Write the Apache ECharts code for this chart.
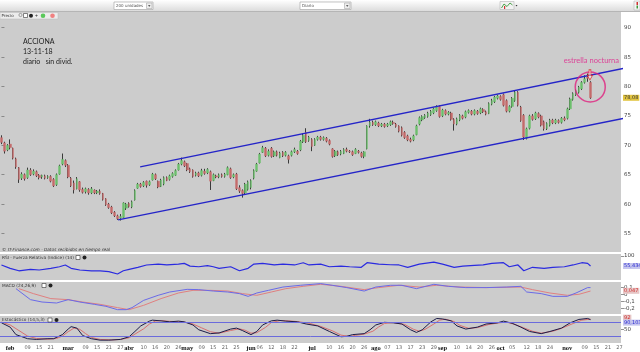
<!DOCTYPE html>
<html><head><meta charset="utf-8">
<script src="https://cdn.jsdelivr.net/npm/echarts@6/dist/echarts.min.js"></script>
<style>html,body{margin:0;padding:0;background:#fff}#c{width:640px;height:352px}</style>
</head><body><div id="c"></div>
<script>
// ---- calendar (trading days) ----
const startDate = '2018-01-29', endDate = '2018-11-27';
const holidays = ['2018-03-30', '2018-04-02', '2018-05-01'];
// ---- daily candles ACCIONA ----
const open = [71.3,70.4,69.2,70.2,69.5,67.7,66.2,64.4,65.0,64.5,65.8,65.1,65.5,64.9,64.6,64.8,64.5,64.7,64.2,63.3,
65.1,66.8,67.4,66.6,64.4,63.6,62.6,63.8,62.5,62.1,62.5,61.9,62.4,61.9,62.2,61.8,60.9,60.0,59.5,58.6,
58.0,57.6,57.7,59.3,60.1,59.5,60.7,62.7,63.4,63.1,63.9,63.3,64.1,65.0,63.9,63.0,63.4,64.5,64.2,64.7,
64.9,65.8,66.8,67.2,66.9,66.0,65.8,64.9,65.3,64.9,65.6,65.3,65.5,64.0,64.8,64.6,65.0,64.7,65.0,66.0,
64.6,65.1,62.8,62.3,61.9,62.5,62.8,64.4,65.6,67.0,68.8,69.5,68.3,69.5,68.2,68.9,67.9,68.8,68.3,68.2,
68.3,68.9,69.0,69.2,70.6,72.2,70.8,71.0,70.0,71.0,71.4,71.0,71.2,70.8,69.4,68.2,68.9,68.5,68.6,69.3,
69.0,68.9,68.6,69.0,68.7,68.1,69.4,73.3,73.9,73.5,73.8,73.3,73.6,73.3,73.5,73.9,73.6,73.3,73.0,72.2,
71.6,71.0,70.9,71.8,73.6,74.3,74.7,74.9,75.2,75.5,75.9,76.6,75.0,75.9,75.3,75.5,74.4,73.6,74.3,75.0,
74.8,75.6,75.8,75.3,75.8,75.5,76.1,75.7,75.4,77.0,77.4,78.0,78.3,78.6,77.6,75.8,76.6,77.6,79.0,76.5,
75.1,71.2,72.9,75.0,74.5,75.4,75.0,74.0,72.8,73.4,74.3,73.8,74.2,73.9,74.6,74.6,76.2,77.8,78.6,79.0,
79.6,80.7,81.6,80.7];
const close = [70.5,69.0,70.0,69.6,67.8,66.3,64.2,65.1,64.3,65.8,65.0,65.6,64.8,64.5,64.9,64.4,64.7,63.9,63.1,65.0,
66.5,67.6,66.6,64.6,63.1,62.4,64.3,62.4,62.0,62.6,61.9,62.6,61.9,62.2,61.8,60.8,59.9,59.4,58.5,58.0,
57.5,57.9,60.2,60.0,59.6,60.4,62.3,63.4,63.0,63.7,63.2,63.8,65.1,64.3,62.9,64.1,64.5,64.0,64.8,65.2,
65.7,66.8,67.4,66.5,65.8,65.5,64.7,65.3,64.8,65.7,65.2,65.9,63.9,65.0,64.6,65.0,64.7,65.1,66.2,64.5,
65.0,62.6,62.2,61.8,63.4,63.8,64.0,65.7,66.8,68.5,69.6,68.2,69.0,68.1,68.9,68.3,68.7,68.2,68.8,67.6,
68.9,69.3,68.6,70.7,71.7,70.6,71.4,69.8,71.0,71.4,71.0,71.3,70.7,70.2,68.1,69.0,68.4,69.0,69.3,69.0,
68.9,68.4,69.3,68.8,68.1,68.9,73.3,73.9,73.5,74.0,73.3,73.6,73.2,73.6,74.0,73.7,73.2,72.4,71.7,71.3,
70.9,70.7,71.6,73.3,74.7,74.9,75.1,75.5,75.8,76.2,76.5,74.9,76.0,75.3,75.6,74.4,73.6,74.5,75.1,74.6,
75.7,75.9,75.3,75.9,75.4,76.2,75.7,75.3,77.1,77.6,78.2,78.4,77.8,76.8,75.8,76.6,78.0,79.0,76.8,74.2,
71.4,72.8,75.0,74.4,75.5,74.8,73.4,72.8,73.7,74.3,73.8,74.3,73.9,74.6,74.3,76.2,77.9,78.8,79.3,79.9,
80.7,81.3,81.4,78.08];
const low = [70.2,68.6,69.0,69.3,67.6,66.0,63.6,64.1,64.0,64.3,64.8,64.9,64.6,64.2,64.3,64.2,64.3,63.7,62.9,63.1,
65.0,66.6,66.3,64.4,62.9,61.8,62.5,62.1,61.8,61.8,61.6,61.7,61.7,61.7,61.6,60.6,59.7,59.2,58.3,57.8,
57.3,57.2,57.6,59.0,59.4,59.3,60.6,62.6,62.8,62.9,62.8,63.1,64.0,64.1,62.7,62.9,63.2,63.9,64.0,64.5,
64.8,65.7,66.6,66.3,65.6,65.3,64.5,64.7,64.6,64.7,65.0,65.1,62.4,63.9,64.4,64.4,64.5,64.5,64.9,64.3,
64.4,62.4,61.9,61.1,61.7,62.3,62.5,64.2,65.5,66.9,68.7,68.0,68.1,67.9,68.0,68.1,67.8,68.0,68.1,66.9,
68.1,68.7,68.4,69.0,70.4,70.4,70.6,69.0,69.9,70.8,70.8,70.8,70.5,70.0,67.9,68.0,68.2,68.3,68.5,68.8,
68.7,68.2,68.5,68.6,67.9,67.8,69.3,73.0,73.3,73.3,73.1,73.1,73.0,73.1,73.3,73.5,73.0,72.2,71.5,71.1,
70.7,70.5,70.7,71.7,73.4,74.1,74.5,74.7,75.0,75.3,75.7,74.7,74.8,75.1,75.1,74.2,72.5,73.4,74.1,74.4,
74.6,75.4,75.1,75.1,75.2,75.3,75.5,75.1,75.3,76.8,77.2,77.8,77.6,76.6,75.6,75.6,76.4,77.4,76.6,74.0,
70.9,71.0,72.7,74.2,74.3,74.6,73.2,72.5,72.6,73.2,73.6,73.6,73.7,73.7,74.1,74.4,76.0,77.6,78.4,78.8,
79.4,80.5,80.8,77.9];
const high = [71.7,70.6,70.2,71.0,69.6,67.9,66.3,65.4,65.2,66.2,66.1,65.9,65.7,65.1,65.0,65.0,64.9,64.9,64.4,65.2,
66.7,68.6,67.6,66.8,64.6,64.0,64.6,63.9,62.8,62.8,62.7,62.9,62.5,62.4,62.5,61.9,61.0,60.2,59.7,58.8,
58.2,58.3,60.3,60.2,60.3,60.6,62.5,63.6,63.6,63.9,64.0,64.0,65.3,65.2,64.0,64.3,64.7,64.7,65.0,65.4,
65.9,67.0,67.9,67.4,67.0,66.2,65.9,65.5,65.5,66.0,66.0,66.1,65.7,65.2,65.0,65.2,65.2,65.3,66.4,66.2,
65.2,65.3,63.2,62.5,63.6,64.0,64.2,65.9,67.0,68.7,69.9,69.7,69.3,69.7,69.1,69.1,68.9,69.0,69.0,68.4,
69.1,69.6,69.2,70.9,72.0,72.9,71.6,71.2,71.2,71.6,71.6,71.5,71.4,71.0,69.5,69.2,69.1,69.2,69.5,69.6,
69.2,69.1,69.5,69.2,68.9,69.0,73.4,74.5,74.2,74.2,74.0,73.8,73.8,73.8,74.2,74.2,73.8,73.4,73.2,72.4,
71.8,71.3,71.8,73.5,74.9,75.1,75.3,75.7,76.0,76.4,76.8,76.8,76.2,76.1,75.8,75.7,74.6,74.7,75.3,75.2,
75.9,76.1,76.0,76.1,76.0,76.4,76.3,75.9,77.3,77.9,78.4,78.6,78.5,78.8,77.8,76.8,78.2,79.3,79.2,76.7,
75.3,73.0,75.2,75.3,75.7,75.6,75.2,74.2,73.9,74.5,74.5,74.5,74.4,74.8,74.9,76.4,78.1,79.0,79.5,80.1,
80.9,81.9,82.2,80.9];
// ---- indicators, sampled [dayIndex, value] ----
const rsi = [[0,59.8],[3,45],[6,34],[10,40.6],[13,37.5],[17,45],[20,52],[22,60],[24,45],[27,37.5],[31,34],[34,34],[37,30],[40,19.6],[42,34],[44,40.6],[47,49.5],[50,59.8],[54,64],[57,60],[61,64],[63,67],[65,55],[68,52],[71,57],[73,52],[75,45],[79,52],[82,34],[85,45],[87,64],[90,67],[94,60],[97,64],[101,60],[104,70],[106,60],[110,64],[113,52],[117,55],[120,52],[124,49.5],[126,70],[130,64],[134,61],[137,60],[140,49.5],[144,64],[149,73],[152,64],[156,49.5],[159,55],[163,58],[166,60],[169,67],[173,70],[175,52],[178,60],[180,34],[183,49.5],[187,45],[190,49.5],[194,52],[197,60],[200,70],[202,67],[203,55.434]];
const macd = [[5,0.081],[10,-0.076],[14,-0.11],[19,-0.124],[23,-0.076],[27,-0.11],[32,-0.143],[36,-0.171],[40,-0.219],[43,-0.219],[45,-0.19],[49,-0.086],[54,-0.014],[58,0.033],[64,0.071],[68,0.067],[73,0.047],[78,0.033],[82,0.01],[85,-0.029],[88,0.019],[92,0.057],[97,0.104],[103,0.129],[110,0.153],[114,0.129],[119,0.096],[125,0.047],[129,0.104],[134,0.129],[138,0.129],[143,0.081],[149,0.143],[154,0.114],[160,0.096],[167,0.096],[174,0.104],[179,0.114],[181,0.033],[186,0.01],[190,-0.029],[195,-0.029],[198,0.019],[202,0.096],[203,0.096]];
const signal = [[6,0.081],[11,0.01],[17,-0.061],[23,-0.076],[28,-0.11],[34,-0.143],[40,-0.19],[44,-0.219],[49,-0.157],[55,-0.061],[61,0.019],[66,0.057],[72,0.057],[78,0.047],[83,0.01],[88,-0.014],[93,0.033],[98,0.081],[104,0.114],[110,0.143],[117,0.114],[125,0.067],[130,0.096],[137,0.129],[144,0.104],[150,0.129],[158,0.104],[167,0.096],[179,0.104],[183,0.067],[189,0.019],[195,-0.014],[199,0],[203,0.047]];
const stochK = [[0,77],[3,59],[5,28],[9,11],[12,8],[16,11],[18,11],[21,28],[23,51],[24,61],[26,55],[28,24],[31,11],[34,5],[37,5],[41,8],[44,19],[46,41],[48,64],[51,84],[52,88],[55,85],[58,81],[61,84],[63,81],[66,68],[68,48],[72,32],[75,35],[79,51],[81,55],[83,45],[86,28],[88,41],[90,68],[93,85],[95,88],[98,84],[102,81],[105,72],[109,64],[113,41],[117,19],[119,21],[121,28],[125,32],[127,48],[129,68],[132,79],[135,77],[138,72],[141,48],[143,37],[145,48],[148,81],[150,95],[152,93],[155,85],[157,64],[160,51],[164,59],[167,72],[171,77],[173,84],[176,75],[179,59],[182,41],[186,32],[189,41],[193,55],[196,77],[199,91],[202,95],[203,90.103]];
const stochD = [[0,80],[3,68],[6,45],[9,22],[12,12],[16,9],[19,12],[21,22],[23,40],[25,55],[27,50],[29,32],[31,16],[34,8],[38,6],[41,8],[44,15],[46,30],[49,52],[51,72],[53,84],[55,86],[58,83],[61,82],[63,80],[66,72],[69,56],[72,40],[75,34],[79,45],[82,52],[84,46],[86,34],[88,36],[91,58],[93,78],[96,86],[99,85],[102,82],[106,75],[110,62],[114,44],[117,26],[120,20],[122,25],[125,30],[128,42],[130,60],[132,74],[135,78],[139,70],[142,50],[144,42],[146,50],[149,72],[151,88],[153,92],[156,82],[158,66],[161,54],[164,57],[168,70],[171,76],[174,80],[177,70],[180,56],[183,42],[186,34],[190,42],[193,54],[197,74],[200,88],[203,92]];
const stochLevels = [20, 80];
// ---- axis ticks ----
const priceTicks = [55, 60, 65, 70, 75, 80, 85, 90];
const rsiTicks = [100];
const macdTicks = [0.1, 0, -0.1, -0.2];
const stochTicks = [50];
const tickLabels = [['2018-02-01','feb'],['2018-02-09','09'],['2018-02-15','15'],['2018-02-21','21'],
['2018-03-01','mar'],['2018-03-09','09'],['2018-03-15','15'],['2018-03-21','21'],['2018-03-27','27'],
['2018-04-03','abr'],['2018-04-10','10'],['2018-04-16','16'],['2018-04-20','20'],['2018-04-26','26'],
['2018-05-02','may'],['2018-05-09','09'],['2018-05-15','15'],['2018-05-21','21'],['2018-05-25','25'],
['2018-06-01','jun'],['2018-06-06','06'],['2018-06-12','12'],['2018-06-18','18'],['2018-06-22','22'],
['2018-07-02','jul'],['2018-07-10','10'],['2018-07-16','16'],['2018-07-20','20'],['2018-07-26','26'],
['2018-08-01','ago'],['2018-08-07','07'],['2018-08-13','13'],['2018-08-17','17'],['2018-08-23','23'],['2018-08-29','29'],
['2018-09-03','sep'],['2018-09-10','10'],['2018-09-14','14'],['2018-09-20','20'],['2018-09-26','26'],
['2018-10-01','oct'],['2018-10-05','05'],['2018-10-12','12'],['2018-10-18','18'],['2018-10-24','24'],
['2018-11-01','nov'],['2018-11-09','09'],['2018-11-15','15'],['2018-11-21','21'],['2018-11-27','27']];
// ---- drawn annotations (data space: [dayIndex, price]) ----
const upperChannel = [[47.8, 66.31], [220.2, 83.66]];
const lowerChannel = [[40.2, 57.30], [220.2, 75.15]];
const starCircle = [[202.9, 79.92]];
const starArrow = [[202.8, 81.96]];
const starText = [[203.3, 84.34]];
const titleLines = ['ACCIONA', '13-11-18', 'diario   sin divid.'];

// build trading-day categories
const dates = [];
for (let d = new Date(startDate + 'T00:00:00Z'); d <= new Date(endDate + 'T00:00:00Z'); d.setUTCDate(d.getUTCDate() + 1)) {
  const s = d.toISOString().slice(0, 10), wd = d.getUTCDay();
  if (wd === 0 || wd === 6 || holidays.includes(s)) continue;
  dates.push(s);
}
const labelMap = new Map(tickLabels);
const fmt = v => String(+(+v).toFixed(4)).replace('.', ',');
const last = a => a[a.length - 1][1];

const GRAY = '#cccccc';
const CLEAR = 'rgba(0,0,0,0)';
const grids = [
  {left: 0, top: 12, width: 621, height: 240},
  {left: 0, top: 254, width: 621, height: 26},
  {left: 0, top: 282, width: 621, height: 32},
  {left: 0, top: 316, width: 621, height: 28}
].map(g => Object.assign({show: true, backgroundColor: GRAY, borderWidth: 0}, g));

const catAxis = (i, showLabels) => ({
  type: 'category', gridIndex: i, data: dates, boundaryGap: true,
  axisLine: {show: false}, axisTick: {show: false}, splitLine: {show: false},
  axisLabel: showLabels ? {
    show: true, margin: 2, interval: (idx, v) => labelMap.has(v),
    formatter: v => { const t = labelMap.get(v) || ''; return /^\d/.test(t) ? '{d|' + t + '}' : '{m|' + t + '}'; },
    rich: {m: {fontSize: 6.5, color: '#111', fontFamily: 'Liberation Serif', fontWeight: 'bold'},
           d: {fontSize: 5, color: '#666', fontFamily: 'DejaVu Sans'}}
  } : {show: false}
});
const yAx = (i, min, max, ticks) => ({
  type: 'value', gridIndex: i, position: 'right', min, max,
  splitLine: {show: false}, axisLine: {show: false},
  axisTick: {show: true, length: 3, customValues: ticks, lineStyle: {color: '#777', width: 0.8}},
  axisLabel: {show: true, customValues: ticks, formatter: v => fmt(v), fontSize: 5.5, color: '#444', margin: 3,
              fontFamily: 'DejaVu Sans', hideOverlap: false, showMinLabel: true, showMaxLabel: true}
});

const lastLabel = (val, text, bg, fg, dy) => ({
  symbol: 'none', silent: true, animation: false,
  lineStyle: {color: CLEAR, width: 0.1},
  data: [{yAxis: val}],
  label: {show: true, position: 'end', distance: 2, formatter: text, backgroundColor: bg, color: fg, opacity: 1,
          fontSize: 5, padding: [1, 1, 0, 1], fontFamily: 'DejaVu Sans', offset: [0, dy || 0]}
});

const UP = '#6cbf6c', DOWN = '#c46a6a', WICK = '#3a3a3a';

const option = {
  animation: false,
  backgroundColor: '#ffffff',
  grid: grids,
  xAxis: [catAxis(0, false), catAxis(1, false), catAxis(2, false), catAxis(3, true),
          {type: 'value', gridIndex: 0, min: -0.5, max: dates.length - 0.5, show: false}],
  yAxis: [yAx(0, 51.85, 92.67, priceTicks), yAx(1, -7.1, 108.9, rsiTicks),
          yAx(2, -0.281, 0.176, macdTicks), yAx(3, -6.8, 105.2, stochTicks)],
  series: [
    {type: 'candlestick', xAxisIndex: 0, yAxisIndex: 0, barWidth: 1, z: 2,
     data: open.map((o, i) => [o, close[i], low[i], high[i]]),
     itemStyle: {color: WICK, color0: WICK, borderColor: WICK, borderColor0: WICK, borderWidth: 1}},
    {type: 'candlestick', xAxisIndex: 0, yAxisIndex: 0, barWidth: 2.2, z: 3,
     data: open.map((o, i) => [o, close[i], Math.min(o, close[i]), Math.max(o, close[i])]),
     itemStyle: {color: UP, color0: DOWN, borderColor: UP, borderColor0: DOWN, borderWidth: 0.4},
     markLine: lastLabel(close[close.length - 1], fmt(close[close.length - 1]), '#e2c440', '#333')},
    {type: 'line', xAxisIndex: 4, yAxisIndex: 0, data: upperChannel, symbol: 'none', clip: false, z: 5,
     lineStyle: {color: '#2424c8', width: 1.3}},
    {type: 'line', xAxisIndex: 4, yAxisIndex: 0, data: lowerChannel, symbol: 'none', clip: false, z: 5,
     lineStyle: {color: '#2424c8', width: 1.3}},
    {type: 'scatter', xAxisIndex: 4, yAxisIndex: 0, data: starCircle, symbol: 'circle', symbolSize: 30, clip: false, z: 6,
     itemStyle: {color: CLEAR, borderColor: '#e0207e', borderWidth: 1.5}},
    {type: 'scatter', xAxisIndex: 4, yAxisIndex: 0, data: starArrow, clip: false, z: 7,
     symbol: 'path://M3,0 L7,0 L7,6 L10,6 L5,11 L0,6 L3,6 Z', symbolSize: [5, 10],
     itemStyle: {color: 'rgba(255,235,235,0.7)', borderColor: '#e02020', borderWidth: 0.9}},
    {type: 'scatter', xAxisIndex: 4, yAxisIndex: 0, data: starText, clip: false, z: 7, symbolSize: 1,
     itemStyle: {color: CLEAR},
     label: {show: true, position: 'inside', formatter: 'estrella nocturna', color: '#e0218a', fontSize: 7.5, fontFamily: 'Lato'}},
    {type: 'line', xAxisIndex: 1, yAxisIndex: 1, data: rsi, symbol: 'none', lineStyle: {color: '#2a2ae0', width: 1.2},
     markLine: lastLabel(last(rsi), fmt(last(rsi)), '#c6c6ee', '#2a2ad0')},
    {type: 'line', xAxisIndex: 2, yAxisIndex: 2, data: signal, symbol: 'none', lineStyle: {color: '#e08080', width: 1},
     markLine: lastLabel(last(signal), fmt(last(signal)), '#e6c6c6', '#d03030')},
    {type: 'line', xAxisIndex: 2, yAxisIndex: 2, data: macd, symbol: 'none', lineStyle: {color: '#6a6ae8', width: 1}},
    {type: 'line', xAxisIndex: 3, yAxisIndex: 3, data: stochD, symbol: 'none', lineStyle: {color: '#d87070', width: 1},
     markLine: {symbol: 'none', silent: true, label: {show: false}, lineStyle: {color: '#6b6bdc', width: 1, type: 'solid'},
                data: stochLevels.map(v => ({yAxis: v}))}},
    {type: 'line', xAxisIndex: 3, yAxisIndex: 3, data: stochD, symbol: 'none', lineStyle: {color: CLEAR, width: 0},
     markLine: lastLabel(last(stochD), fmt(last(stochD)), '#e6c6c6', '#d03030', -1.5)},
    {type: 'line', xAxisIndex: 3, yAxisIndex: 3, data: stochK, symbol: 'none', lineStyle: {color: '#1c1c48', width: 1},
     markLine: lastLabel(last(stochK), fmt(last(stochK)), '#c6c6ee', '#2a2ad0', 3)}
  ],
  graphic: {elements: [
    {type: 'rect', z: 100, shape: {x: 0, y: 0, width: 640, height: 11},
     style: {fill: new echarts.graphic.LinearGradient(0, 0, 0, 1, [{offset: 0, color: '#ffffff'}, {offset: 1, color: '#dcdcdc'}])}},
    {type: 'line', z: 100, shape: {x1: 0, y1: 11.5, x2: 640, y2: 11.5}, style: {stroke: '#b5b5b5', lineWidth: 1}},
    {type: 'rect', z: 101, shape: {x: 114, y: 2, width: 39, height: 7.5}, style: {fill: '#fff', stroke: '#a0a0a0', lineWidth: 0.6}},
    {type: 'text', z: 102, style: {x: 116, y: 6, text: '200 unidades', fontSize: 4, fill: '#555', verticalAlign: 'middle', fontFamily: 'DejaVu Sans'}},
    {type: 'rect', z: 102, shape: {x: 146.5, y: 3, width: 5.5, height: 5.5}, style: {fill: '#eee', stroke: '#999', lineWidth: 0.5}},
    {type: 'polygon', z: 103, shape: {points: [[148, 5.2], [150.5, 5.2], [149.25, 6.8]]}, style: {fill: '#333'}},
    {type: 'rect', z: 101, shape: {x: 300, y: 2, width: 51, height: 7.5}, style: {fill: '#fff', stroke: '#a0a0a0', lineWidth: 0.6}},
    {type: 'text', z: 102, style: {x: 302, y: 6, text: 'Diario', fontSize: 4, fill: '#555', verticalAlign: 'middle', fontFamily: 'DejaVu Sans'}},
    {type: 'rect', z: 102, shape: {x: 344.5, y: 3, width: 5.5, height: 5.5}, style: {fill: '#eee', stroke: '#999', lineWidth: 0.5}},
    {type: 'polygon', z: 103, shape: {points: [[346, 5.2], [348.5, 5.2], [347.25, 6.8]]}, style: {fill: '#333'}},
    {type: 'rect', z: 101, shape: {x: 500, y: 1.5, width: 14, height: 8}, style: {fill: '#f2f2f2', stroke: '#aaa', lineWidth: 0.5}},
    {type: 'polyline', z: 102, shape: {points: [[501.5, 8], [504, 4], [507, 6.5], [510, 3], [512.5, 5]]}, style: {stroke: '#3a9a3a', lineWidth: 0.9, fill: null}},
    {type: 'rect', z: 102, shape: {x: 504, y: 6, width: 1.2, height: 3}, style: {fill: '#d03030'}},
    {type: 'polygon', z: 103, shape: {points: [[515.5, 5], [517.5, 5], [516.5, 6.5]]}, style: {fill: '#333'}},
    {type: 'rect', z: 101, shape: {x: 634, y: 1, width: 6, height: 9}, style: {fill: '#f4f4f4', stroke: '#aaa', lineWidth: 0.5}},
    {type: 'rect', z: 102, shape: {x: 636.5, y: 2, width: 1.5, height: 3}, style: {fill: '#d03030'}},
    {type: 'rect', z: 102, shape: {x: 636.5, y: 5.5, width: 1.5, height: 3}, style: {fill: '#3a9a3a'}},
    {type: 'rect', z: 100, shape: {x: 0, y: 12.5, width: 58, height: 6.5}, style: {fill: '#ececec', stroke: '#bbb', lineWidth: 0.5}},
    {type: 'text', z: 101, style: {x: 1.5, y: 15.8, text: 'Precio', fontSize: 4, fill: '#333', verticalAlign: 'middle', fontFamily: 'DejaVu Sans'}},
    {type: 'circle', z: 101, shape: {cx: 20.5, cy: 15, r: 1.6}, style: {fill: 'none', stroke: '#555', lineWidth: 0.5}},
    {type: 'rect', z: 101, shape: {x: 23.5, y: 13.5, width: 4, height: 4}, style: {fill: '#fff', stroke: '#333', lineWidth: 0.6}},
    {type: 'circle', z: 101, shape: {cx: 31, cy: 15.7, r: 2}, style: {fill: '#222'}},
    {type: 'text', z: 101, style: {x: 35, y: 15.8, text: '+', fontSize: 5, fill: '#222', verticalAlign: 'middle'}},
    {type: 'circle', z: 101, shape: {cx: 43, cy: 15.7, r: 2.3}, style: {fill: '#5ac85a'}},
    {type: 'circle', z: 101, shape: {cx: 52.5, cy: 15.7, r: 2.3}, style: {fill: '#f08080'}},
    {type: 'text', z: 101, style: {x: 23, y: 41.7, text: titleLines[0], fontSize: 7, fill: '#222', verticalAlign: 'middle', fontFamily: 'Lato'}},
    {type: 'text', z: 101, style: {x: 23, y: 51.7, text: titleLines[1], fontSize: 7, fill: '#222', verticalAlign: 'middle', fontFamily: 'Lato'}},
    {type: 'text', z: 101, style: {x: 23, y: 61.7, text: titleLines[2], fontSize: 7, fill: '#222', verticalAlign: 'middle', fontFamily: 'Lato'}},
    {type: 'text', z: 101, style: {x: 2, y: 250.2, text: '\u00a9 IT-Finance.com \u00b7 Datos recibidos en tiempo real', fontSize: 4.3, fontStyle: 'italic', fill: '#333', verticalAlign: 'middle', fontFamily: 'DejaVu Sans'}},
    {type: 'text', z: 101, style: {x: 2, y: 257.5, text: 'RSI - Fuerza Relativa (Indice) (14)', fontSize: 4.3, fill: '#333', verticalAlign: 'middle', fontFamily: 'DejaVu Sans'}},
    {type: 'rect', z: 101, shape: {x: 76, y: 255.5, width: 4, height: 4}, style: {fill: '#fff', stroke: '#333', lineWidth: 0.6}},
    {type: 'circle', z: 101, shape: {cx: 84.5, cy: 257.5, r: 2}, style: {fill: '#222'}},
    {type: 'text', z: 101, style: {x: 2, y: 285.5, text: 'MACD (24,26,9)', fontSize: 4.3, fill: '#333', verticalAlign: 'middle', fontFamily: 'DejaVu Sans'}},
    {type: 'rect', z: 101, shape: {x: 42, y: 283.5, width: 4, height: 4}, style: {fill: '#fff', stroke: '#333', lineWidth: 0.6}},
    {type: 'circle', z: 101, shape: {cx: 50.5, cy: 285.5, r: 2}, style: {fill: '#222'}},
    {type: 'text', z: 101, style: {x: 2, y: 320, text: 'Estoc\u00e1stico (14,5,3)', fontSize: 4.3, fill: '#333', verticalAlign: 'middle', fontFamily: 'DejaVu Sans'}},
    {type: 'rect', z: 101, shape: {x: 48, y: 318, width: 4, height: 4}, style: {fill: '#fff', stroke: '#333', lineWidth: 0.6}},
    {type: 'circle', z: 101, shape: {cx: 56.5, cy: 320, r: 2}, style: {fill: '#222'}}
  ]}
};
const chart = echarts.init(document.getElementById('c'), null, {renderer: 'canvas', width: 640, height: 352});
chart.setOption(option);
</script>
</body></html>
